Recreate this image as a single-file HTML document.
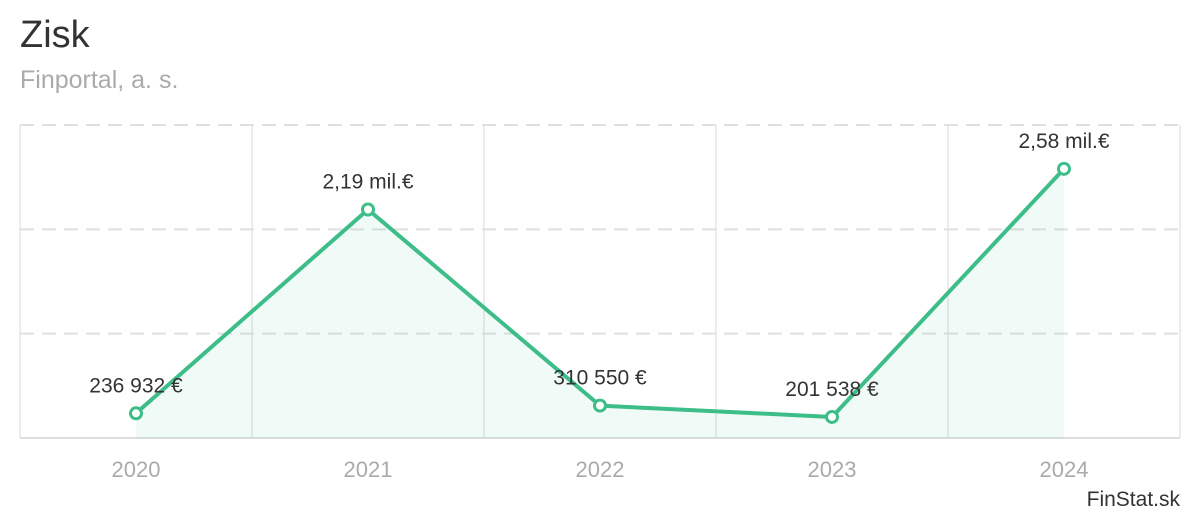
<!DOCTYPE html>
<html><head><meta charset="utf-8"><style>
body{margin:0;width:1200px;height:520px;background:#fff;overflow:hidden;font-family:"Liberation Sans",sans-serif}
#title{position:absolute;left:20px;top:14px;font-size:38px;color:#333}
#sub{position:absolute;left:20px;top:66px;font-size:25px;color:#aaa}
#brand{position:absolute;right:20px;top:488px;font-size:21px;color:#333}
svg{position:absolute;left:0;top:0}
</style></head><body>
<div id="title">Zisk</div>
<div id="sub">Finportal, a. s.</div>
<div id="brand">FinStat.sk</div>
<svg id="chart" width="1200" height="520"></svg>
<script>
const categories=["2020","2021","2022","2023","2024"];
const values=[236932,2190000,310550,201538,2580000];
const labels=["236 932 €","2,19 mil.€","310 550 €","201 538 €","2,58 mil.€"];
const yTicks=[1000000,2000000,3000000];
const NS="http://www.w3.org/2000/svg";
const svg=document.getElementById('chart');
const L=20,R=1180,T=125,B=438,yMax=3000000;
const bw=(R-L)/categories.length;
const x=i=>L+bw*(i+0.5);
const y=v=>B-(v/yMax)*(B-T);
function mk(t,a){const e=document.createElementNS(NS,t);for(const k in a)e.setAttribute(k,a[k]);svg.appendChild(e);return e;}
let e=mk('line',{x1:L,y1:T,x2:L,y2:B,stroke:'#e6e6e6','stroke-width':1.5});

e=mk('line',{x1:R,y1:T,x2:R,y2:B,stroke:'#e6e6e6','stroke-width':1.5});

for(let i=1;i<categories.length;i++){
  e=mk('line',{x1:L+bw*i,y1:T,x2:L+bw*i,y2:B,stroke:'#e6e6e6','stroke-width':1.5});
  
}
yTicks.forEach(t=>{
  e=mk('line',{x1:L,y1:y(t),x2:R,y2:y(t),stroke:'#e0e0e0','stroke-width':2,'stroke-dasharray':'14 8'});
  
});
e=mk('line',{x1:L,y1:B,x2:R,y2:B,stroke:'#dddddd','stroke-width':2});

let pts=values.map((v,i)=>x(i)+','+y(v)).join(' ');
e=mk('polygon',{points:x(0)+','+B+' '+pts+' '+x(values.length-1)+','+B,fill:'#3dbd88','fill-opacity':0.08});

e=mk('polyline',{points:pts,fill:'none',stroke:'#3dbd88','stroke-width':4,'stroke-linejoin':'round'});

values.forEach((v,i)=>{
  e=mk('circle',{cx:x(i),cy:y(v),r:5.5,fill:'#fff',stroke:'#3dbd88','stroke-width':3});
  
  e=mk('text',{x:x(i),y:y(v)-21,'text-anchor':'middle','font-size':21,fill:'#333'});
  e.textContent=labels[i];
  
  e=mk('text',{x:x(i),y:477,'text-anchor':'middle','font-size':22,fill:'#aaa'});
  e.textContent=categories[i];
  
});
</script>
</body></html>
